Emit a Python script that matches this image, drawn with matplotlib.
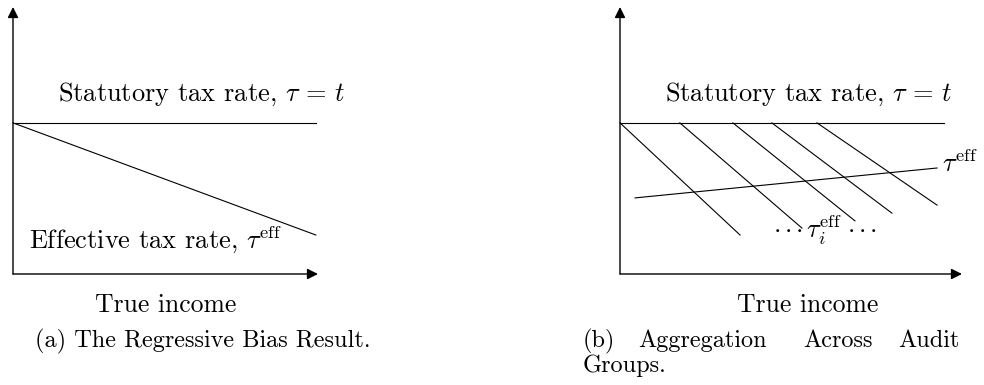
import matplotlib
matplotlib.use('Agg')
import matplotlib.pyplot as plt

plt.rcParams['font.family'] = 'serif'
plt.rcParams['font.serif'] = ['cmr10']
plt.rcParams['mathtext.fontset'] = 'cm'
plt.rcParams['axes.formatter.use_mathtext'] = True

# panel (a): one statutory rate, one effective rate falling with income
income_a = [0, 0.993]
statutory_a = [0.566, 0.566]
effective_a = [0.566, 0.146]

# panel (b): audit groups, each with its own falling effective rate
statutory_b_x = [0, 0.947]
statutory_b = [0.566, 0.566]
group_start_x = [0, 0.175, 0.330, 0.444, 0.576]
group_end_x = [0.351, 0.532, 0.687, 0.795, 0.927]
group_end_y = [0.146, 0.172, 0.199, 0.228, 0.258]
aggregate_x = [0.044, 0.927]
aggregate_y = [0.285, 0.397]

W, H = 984, 385
fig = plt.figure(figsize=(W / 100, H / 100), dpi=100)


def make_axes(x0, y0, w, h):
    ax = fig.add_axes([x0 / W, (H - y0) / H, w / W, h / H])
    ax.set_xlim(0, 1)
    ax.set_ylim(0, 1)
    ax.axis('off')
    arrow = dict(arrowstyle='-|>', color='black', lw=1.0, mutation_scale=16,
                 shrinkA=0, shrinkB=0)
    ax.annotate('', xy=(1, 0), xytext=(0, 0), arrowprops=arrow, annotation_clip=False)
    ax.annotate('', xy=(0, 1), xytext=(0, 0), arrowprops=arrow, annotation_clip=False)
    return ax


lw = 0.8
fs = 19
stat_label = r'Statutory tax rate, $\tau\,=\,t$'

# (a)
ax1 = make_axes(13, 274, 305, 267)
ax1.plot(income_a, statutory_a, color='black', lw=lw, clip_on=False)
ax1.plot(income_a, effective_a, color='black', lw=lw, clip_on=False)
ax1.text(0.148, 0.648, stat_label, fontsize=fs, va='baseline')
ax1.text(0.052, 0.097, r'Effective tax rate, $\tau^{\mathrm{eff}}$', fontsize=fs, va='baseline')
ax1.text(0.502, -0.142, 'True income', fontsize=18.5, va='baseline', ha='center')

# (b)
ax2 = make_axes(620, 274, 342, 267)
ax2.plot(statutory_b_x, statutory_b, color='black', lw=lw, clip_on=False)
for x0, x1, y1 in zip(group_start_x, group_end_x, group_end_y):
    ax2.plot([x0, x1], [statutory_b[0], y1], color='black', lw=lw, clip_on=False)
ax2.plot(aggregate_x, aggregate_y, color='black', lw=lw, clip_on=False)
ax2.text(0.132, 0.648, stat_label, fontsize=fs, va='baseline')
ax2.text(0.942, 0.382, r'$\tau^{\mathrm{eff}}$', fontsize=fs, va='baseline')
ax2.text(0.447, 0.135, r'${\cdot}\,{\cdot}\,{\cdot}\,\tau_i^{\mathrm{eff}}\;{\cdot}\,{\cdot}\,{\cdot}$',
         fontsize=fs, va='baseline')
ax2.text(0.550, -0.142, 'True income', fontsize=18.5, va='baseline', ha='center')

# captions
cs = 17.5
fig.text(35 / W, (H - 347) / H, '(a) The Regressive Bias Result.', fontsize=cs, va='baseline')
for word, px in zip(['(b)', 'Aggregation', 'Across', 'Audit'], [583, 638, 803, 898]):
    fig.text(px / W, (H - 347) / H, word, fontsize=cs, va='baseline')
fig.text(583 / W, (H - 372) / H, 'Groups.', fontsize=cs, va='baseline')

fig.savefig('out.png', dpi=100, facecolor='white')
